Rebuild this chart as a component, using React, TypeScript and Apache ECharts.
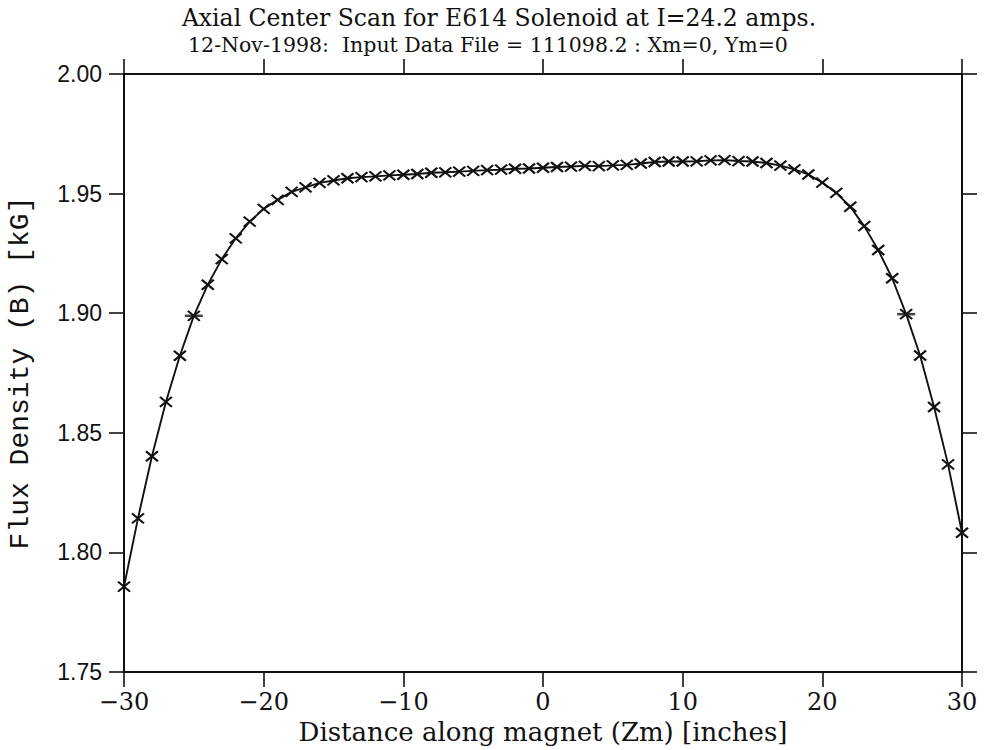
import React, { useEffect, useRef } from "react";
import * as echarts from "echarts";

const titleLine1 = "Axial Center Scan for E614 Solenoid at I=24.2 amps.";
const titleLine2 = "12-Nov-1998:  Input Data File = 111098.2 : Xm=0, Ym=0";
const xAxisName = "Distance along magnet (Zm) [inches]";
const yAxisName = "Flux Density (B) [kG]";

const positions = [
  -30, -29, -28, -27, -26, -25, -24, -23, -22, -21, -20, -19, -18, -17, -16,
  -15, -14, -13, -12, -11, -10, -9, -8, -7, -6, -5, -4, -3, -2, -1, 0, 1, 2, 3,
  4, 5, 6, 7, 8, 9, 10, 11, 12, 13, 14, 15, 16, 17, 18, 19, 20, 21, 22, 23, 24,
  25, 26, 27, 28, 29, 30,
];

const fluxDensity = [
  1.7857, 1.8142, 1.8402, 1.8629, 1.8822, 1.8989, 1.9119, 1.9226, 1.9313,
  1.9383, 1.9436, 1.9474, 1.9507, 1.9526, 1.9545, 1.9555, 1.9564, 1.9569,
  1.9572, 1.9576, 1.9579, 1.9582, 1.9587, 1.9589, 1.9592, 1.9595, 1.9598,
  1.96, 1.9604, 1.9605, 1.9608, 1.9611, 1.9613, 1.9616, 1.9615, 1.9618, 1.962,
  1.9626, 1.9632, 1.9634, 1.9634, 1.9635, 1.9639, 1.964, 1.9636, 1.9634,
  1.9628, 1.9617, 1.9601, 1.958, 1.9546, 1.9503, 1.9445, 1.9364, 1.9264,
  1.9146, 1.8996, 1.8823, 1.8608, 1.8368, 1.8082,
];

// extra horizontal marks drawn over two of the points
const markedX = [-25, 26];
const markedY = [1.8989, 1.8996];

const xTicks = { min: -30, max: 30, interval: 10 };
const yTicks = { min: 1.75, max: 2.0, interval: 0.05 };

const INK = "#111";
const roman = "'DejaVu Serif', serif";
const mono = "'Liberation Mono', 'DejaVu Sans Mono', monospace";

export default function App() {
  const ref = useRef<HTMLDivElement>(null);

  useEffect(() => {
    if (!ref.current) return;
    const chart = echarts.init(ref.current, undefined, { renderer: "svg" });

    const lineData = positions.map((x, i) => [x, fluxDensity[i]]);
    const markData = markedX.map((x, i) => [x, markedY[i]]);

    const axisLine = { show: true, onZero: false, lineStyle: { color: INK, width: 2 } };
    const axisTick = { show: true, inside: false, length: 15, lineStyle: { color: INK, width: 1.6 } };

    const option: any = {
      animation: false,
      backgroundColor: "#fff",
      grid: {
        left: 124,
        right: 27,
        top: 74,
        bottom: 78,
        containLabel: false,
        outerBoundsMode: "none",
      },
      graphic: [
        {
          type: "text",
          x: 499,
          y: 18,
          style: {
            text: titleLine1,
            fill: INK,
            font: `23.5px ${roman}`,
            textAlign: "center",
            textVerticalAlign: "middle",
          },
        },
        {
          type: "text",
          x: 488,
          y: 45,
          style: {
            text: titleLine2,
            fill: INK,
            font: `20.5px ${roman}`,
            textAlign: "center",
            textVerticalAlign: "middle",
          },
        },
      ],
      xAxis: [
        {
          type: "value",
          position: "bottom",
          ...xTicks,
          axisLine,
          axisTick,
          splitLine: { show: false },
          axisLabel: {
            show: true,
            color: INK,
            fontSize: 24,
            fontFamily: roman,
            margin: 18,
            formatter: (v: number) => String(v).replace("-", "\u2212"),
          },
          name: xAxisName,
          nameLocation: "middle",
          nameGap: 38,
          nameTextStyle: { color: INK, fontSize: 26, fontFamily: roman },
        },
        {
          type: "value",
          position: "top",
          ...xTicks,
          axisLine,
          axisTick,
          splitLine: { show: false },
          axisLabel: { show: false },
        },
      ],
      yAxis: [
        {
          type: "value",
          position: "left",
          ...yTicks,
          axisLine,
          axisTick,
          splitLine: { show: false },
          axisLabel: {
            show: true,
            color: INK,
            fontSize: 23,
            fontFamily: "'Liberation Sans', Arial, sans-serif",
            margin: 22,
            formatter: (v: number) => v.toFixed(2),
          },
          name: yAxisName,
          nameLocation: "middle",
          nameGap: 90,
          nameRotate: 90,
          nameTextStyle: { color: INK, fontSize: 28, fontFamily: mono },
        },
        {
          type: "value",
          position: "right",
          ...yTicks,
          axisLine,
          axisTick,
          splitLine: { show: false },
          axisLabel: { show: false },
        },
      ],
      series: [
        {
          type: "line",
          xAxisIndex: 0,
          yAxisIndex: 0,
          data: lineData,
          smooth: false,
          lineStyle: { color: INK, width: 1.9 },
          symbol: "path://M0,0L10,10M0,10L10,0",
          symbolSize: [12, 10],
          showSymbol: true,
          itemStyle: { color: "none", borderColor: INK, borderWidth: 2.1 },
          emphasis: { disabled: true },
          z: 3,
        },
        {
          type: "scatter",
          xAxisIndex: 0,
          yAxisIndex: 0,
          data: markData,
          symbol: "rect",
          symbolSize: [18, 2.5],
          itemStyle: { color: INK },
          emphasis: { disabled: true },
          z: 4,
        },
      ],
    };

    chart.setOption(option);
    return () => chart.dispose();
  }, []);

  return (
    <div
      ref={ref}
      style={{ position: "absolute", left: 0, top: 0, width: 989, height: 750, background: "#fff" }}
    />
  );
}
